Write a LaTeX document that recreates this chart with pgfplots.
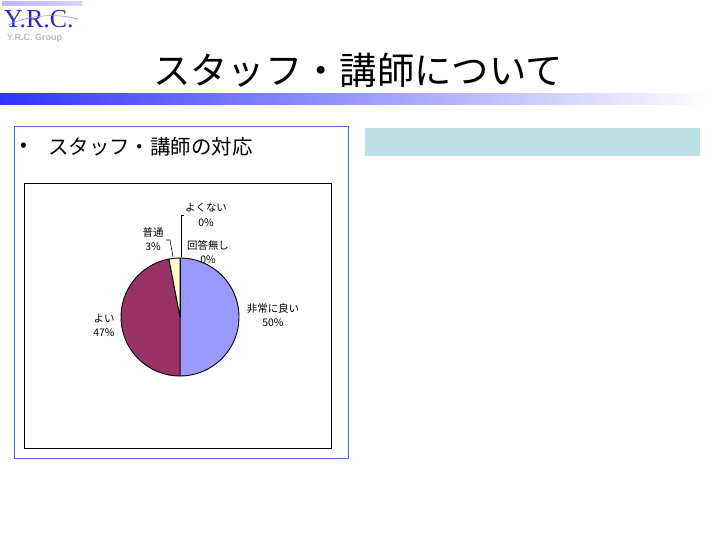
\documentclass[border=0pt]{standalone}
\usepackage{pgfplots}
\pgfplotsset{compat=1.18}
\usepackage{pgfplotstable}
\usepackage{fontspec}
\setmainfont{Noto Sans CJK JP}
\newfontfamily\logofont{Liberation Serif}
\newfontfamily\grpfont{Liberation Sans}
\definecolor{pieA}{RGB}{153,153,255}
\definecolor{pieB}{RGB}{153,51,102}
\definecolor{pieC}{RGB}{255,255,204}
\definecolor{pieD}{RGB}{204,255,255}
\definecolor{pieE}{RGB}{102,0,102}
\definecolor{barblue}{RGB}{51,51,255}
\definecolor{tealbox}{RGB}{188,224,227}
\definecolor{boxline}{RGB}{80,110,210}
\definecolor{logoblue}{RGB}{40,40,200}

\pgfplotstableread{
label value color
A 50 pieA
B 47 pieB
C 3 pieC
D 0 pieD
E 0 pieE
}\piedata

\begin{document}
\begin{tikzpicture}
\useasboundingbox[fill=white] (0,0) rectangle (720bp,540bp);
% logo
\fill[left color=pieA!70,right color=pieA!40] (2bp,534bp) rectangle (82bp,538bp);
\node[anchor=base west,text=logoblue,inner sep=0pt,font=\logofont\fontsize{26}{27}\selectfont] at (4bp,512bp) {Y.R.C.};
\draw[logoblue!50,line width=0.6bp] (8bp,515bp) .. controls (30bp,525bp) and (55bp,527bp) .. (78bp,521bp);
\node[anchor=base west,text=gray!55,inner sep=0pt,font=\grpfont\bfseries\fontsize{9}{10}\selectfont] at (7bp,499bp) {Y.R.C. Group};
% title
\node[inner sep=0pt,font=\fontsize{37.5}{40}\selectfont] at (358bp,470bp) {スタッフ・講師について};
% gradient bar
\shade[left color=barblue,right color=white] (0bp,435bp) rectangle (712bp,446bp);
% left box
\draw[boxline,line width=0.8bp] (14bp,82bp) rectangle (348bp,414bp);
\node[anchor=west,inner sep=0pt,font=\fontsize{20}{22}\selectfont] at (20bp,393bp) {•};
\node[anchor=west,inner sep=0pt,font=\fontsize{20.5}{22}\selectfont] at (48bp,393bp) {スタッフ・講師の対応};
% teal box
\fill[tealbox] (365bp,384bp) rectangle (700bp,412bp);
% chart box
\draw[black,line width=0.8bp] (24bp,92bp) rectangle (331bp,357bp);

\begin{axis}[
  hide axis, x=59bp, y=59bp,
  xmin=-1.2, xmax=1.2, ymin=-1.2, ymax=1.2,
  at={(180bp,223bp)}, anchor=origin, clip=false]
\def\startang{90}
\pgfplotsforeachungrouped \i in {0,1,2,3,4}{%
  \pgfplotstablegetelem{\i}{value}\of\piedata \let\v\pgfplotsretval
  \pgfplotstablegetelem{\i}{color}\of\piedata \let\col\pgfplotsretval
  \pgfmathsetmacro\endang{\startang-3.6*\v}%
  \pgfmathsetmacro\sx{cos(\startang)}%
  \pgfmathsetmacro\sy{sin(\startang)}%
  \edef\temp{\noexpand\filldraw[fill=\col,draw=black,line width=0.9bp,line join=round] (axis cs:0,0) -- (axis cs:\sx,\sy) arc[start angle=\startang,end angle=\endang,radius=59bp] -- cycle;}%
  \temp
  \let\startang\endang
}
\end{axis}

% leader lines
\draw[black,line width=0.6bp] (184bp,325bp) -- (181bp,325bp) -- (181bp,283bp);
\draw[black,line width=0.6bp] (166bp,300bp) -- (170bp,300bp) -- (173bp,283bp);
% labels
\begin{scope}[every node/.style={inner sep=0pt,font=\fontsize{10.5}{12}\selectfont}]
\node at (206bp,332bp) {よくない};
\node at (206bp,317bp) {0\%};
\node at (208bp,295bp) {回答無し};
\node at (208bp,280bp) {0\%};
\node at (153bp,307bp) {普通};
\node at (153bp,293bp) {3\%};
\node at (273bp,231bp) {非常に良い};
\node at (273bp,217bp) {50\%};
\node at (104bp,221bp) {よい};
\node at (104bp,207bp) {47\%};
\end{scope}
\end{tikzpicture}
\end{document}
